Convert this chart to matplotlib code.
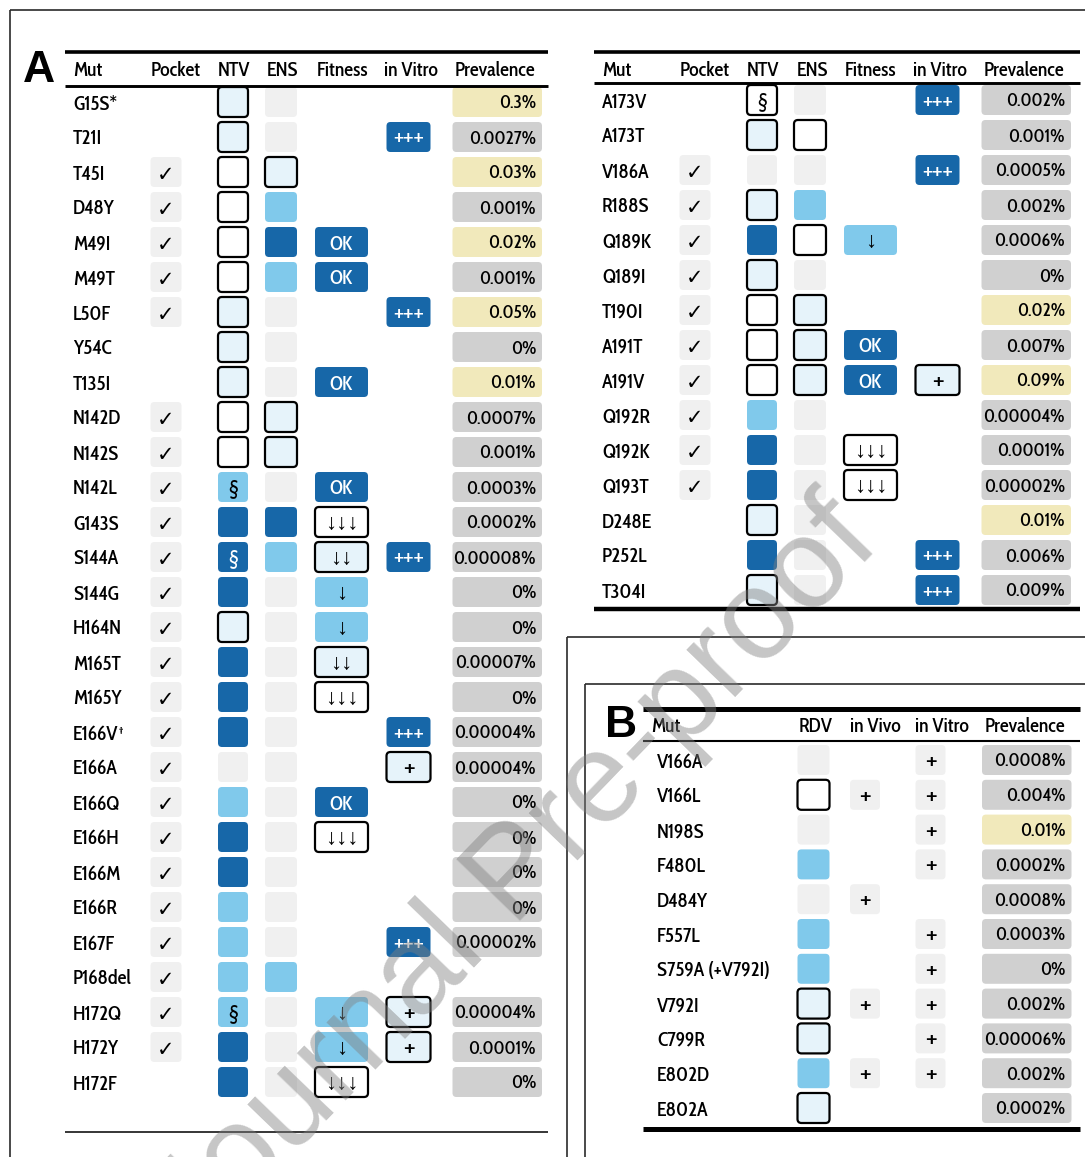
import glob
import math
import matplotlib
matplotlib.use("Agg")
import matplotlib.pyplot as plt
from matplotlib.patches import FancyBboxPatch
from matplotlib import font_manager
from matplotlib.font_manager import FontProperties
from matplotlib.textpath import TextPath

# ---------------- Panel A, left block ----------------
mut_a1 = ['G15S*', 'T21I', 'T45I', 'D48Y', 'M49I', 'M49T', 'L50F', 'Y54C', 'T135I',
          'N142D', 'N142S', 'N142L', 'G143S', 'S144A', 'S144G', 'H164N', 'M165T',
          'M165Y', 'E166V', 'E166A', 'E166Q', 'E166H', 'E166M', 'E166R', 'E167F',
          'P168del', 'H172Q', 'H172Y', 'H172F']
dagger_a1 = ['E166V']
pocket_a1 = [0, 0, 1, 1, 1, 1, 1, 0, 0] + [1] * 19 + [0]
ntv_a1 = ['P', 'P', 'W', 'W', 'W', 'W', 'P', 'P', 'P', 'W', 'W', 'L§', 'D', 'D§', 'D',
          'P', 'D', 'D', 'D', 'G', 'L', 'D', 'D', 'L', 'L', 'L', 'L§', 'D', 'D']
ens_a1 = ['G', 'G', 'P', 'L', 'D', 'L', 'G', 'G', 'G', 'P', 'P', 'G', 'D', 'L', 'G',
          'G', 'G', 'G', 'G', 'G', 'G', 'G', 'G', 'G', 'G', 'L', 'G', 'G', 'G']
fitness_a1 = ['', '', '', '', 'OK', 'OK', '', '', 'OK', '', '', 'OK', '↓↓↓', '↓↓', '↓',
              '↓', '↓↓', '↓↓↓', '', '', 'OK', '↓↓↓', '', '', '', '', '↓', '↓', '↓↓↓']
vitro_a1 = ['', '+++', '', '', '', '', '+++', '', '', '', '', '', '', '+++', '', '', '',
            '', '+++', '+', '', '', '', '', '+++', '', '+', '+', '']
prev_a1 = ['0.3', '0.0027', '0.03', '0.001', '0.02', '0.001', '0.05', '0', '0.01',
           '0.0007', '0.001', '0.0003', '0.0002', '0.00008', '0', '0', '0.00007', '0',
           '0.00004', '0.00004', '0', '0', '0', '0', '0.00002', '', '0.00004', '0.0001', '0']

# ---------------- Panel A, right block ----------------
mut_a2 = ['A173V', 'A173T', 'V186A', 'R188S', 'Q189K', 'Q189I', 'T190I', 'A191T',
          'A191V', 'Q192R', 'Q192K', 'Q193T', 'D248E', 'P252L', 'T304I']
pocket_a2 = [0, 0, 1, 1, 1, 1, 1, 1, 1, 1, 1, 1, 0, 0, 0]
ntv_a2 = ['W§', 'P', 'G', 'P', 'D', 'P', 'W', 'W', 'W', 'L', 'D', 'D', 'P', 'D', 'P']
ens_a2 = ['G', 'W', 'G', 'L', 'W', 'G', 'P', 'P', 'P', 'G', 'G', 'G', 'G', 'G', 'G']
fitness_a2 = ['', '', '', '', '↓', '', '', 'OK', 'OK', '', '↓↓↓', '↓↓↓', '', '', '']
vitro_a2 = ['+++', '', '+++', '', '', '', '', '', '+', '', '', '', '', '+++', '+++']
prev_a2 = ['0.002', '0.001', '0.0005', '0.002', '0.0006', '0', '0.02', '0.007', '0.09',
           '0.00004', '0.0001', '0.00002', '0.01', '0.006', '0.009']

# ---------------- Panel B ----------------
mut_b = ['V166A', 'V166L', 'N198S', 'F480L', 'D484Y', 'F557L', 'S759A (+V792I)',
         'V792I', 'C799R', 'E802D', 'E802A']
rdv_b = ['G', 'W', 'G', 'L', 'G', 'L', 'L', 'P', 'P', 'L', 'P']
vivo_b = ['', '+', '', '', '+', '', '', '+', '', '+', '']
vitro_b = ['+', '+', '+', '+', '', '+', '+', '+', '+', '+', '']
prev_b = ['0.0008', '0.004', '0.01', '0.0002', '0.0008', '0.0003', '0', '0.002',
          '0.00006', '0.002', '0.0002']

headers_a = ['Mut', 'Pocket', 'NTV', 'ENS', 'Fitness', 'in Vitro', 'Prevalence']
headers_b = ['Mut', 'RDV', 'in Vivo', 'in Vitro', 'Prevalence']

# ---------------- styling ----------------
DARK = '#1767a8'
LIGHT = '#80c9eb'
PALE = '#e6f3fa'
GREY = '#f0f0f0'
PREV_GREY = '#d0d0d0'
PREV_YELLOW = '#f1e9bb'
FRAME = '#2a2a2a'

# ---- choose a narrow sans face: cap height ~13.8 px, compact set width ----
for pat in ('/usr/share/fonts/**/*Narrow*.[to]tf', '/usr/share/fonts/**/*Condensed*.[to]tf'):
    for path in glob.glob(pat, recursive=True):
        try:
            font_manager.fontManager.addfont(path)
        except Exception:
            pass

CAP_PX = 13.8
targets = {'S759A (+V792I)': 120, 'Prevalence': 85, '0.00004%': 76, 'P168del': 56}


def _extent(s, size, prop):
    return TextPath((0, 0), s, size=size, prop=prop).get_extents()


def _fit(prop):
    cap_pt = _extent('H', 10, prop).height
    size_cap = 10 * CAP_PX * 0.72 / cap_pt
    logs = [math.log(t / (_extent(s, size_cap, prop).width / 0.72))
            for s, t in targets.items()]
    return size_cap, sum(logs) / len(logs)


best = None
seen = set()
for f in font_manager.fontManager.ttflist:
    n = (f.name + ' ' + f.fname).lower()
    if not ('narrow' in n or 'condensed' in n) or f.style != 'normal':
        continue
    w = f.weight if isinstance(f.weight, int) else {'normal': 400, 'regular': 400,
                                                     'book': 400, 'medium': 500}.get(f.weight, 0)
    if w not in (400, 500) or f.fname in seen:
        continue
    seen.add(f.fname)
    try:
        prop = FontProperties(fname=f.fname)
        size_cap, mlog = _fit(prop)
    except Exception:
        continue
    score = abs(mlog) - (0.03 if w == 500 else 0.0)
    if best is None or score < best[0]:
        best = (score, prop, size_cap, mlog)

if best is None:
    BODY = FontProperties(family='Liberation Sans')
    size_cap, mlog = _fit(BODY)
else:
    _, BODY, size_cap, mlog = best
# lean towards matching string widths, keep some of the cap height
FS = size_cap * math.exp(0.72 * mlog)
FS_PREV = FS * 0.93


def body(size):
    p = BODY.copy()
    p.set_size(size)
    return p


W_PX, H_PX = 1085, 1157
fig = plt.figure(figsize=(W_PX / 100, H_PX / 100), dpi=100)
ax = fig.add_axes([0, 0, 1, 1])
ax.set_xlim(0, W_PX)
ax.set_ylim(H_PX, 0)
ax.axis('off')

STYLE = {'W': ('white', 'black'), 'P': (PALE, 'black'), 'L': (LIGHT, None),
         'D': (DARK, None), 'G': (GREY, None)}
FIT_STYLE = {'OK': ('D', 'white'), '↓': ('L', 'black'), '↓↓': ('P', 'black'),
             '↓↓↓': ('W', 'black')}
VITRO_STYLE = {'+++': ('D', 'white'), '+': ('P', 'black')}
SYMBOL_FAMILY = ['Liberation Sans', 'DejaVu Sans']


def txt(x, y, s, ha='left', color='black', fs=None, family=None, dy=0.0, weight='normal'):
    if family is None:
        return ax.text(x, y + dy, s, ha=ha, va='center_baseline', color=color,
                       fontproperties=body(fs or FS), zorder=4)
    return ax.text(x, y + dy, s, ha=ha, va='center_baseline', color=color,
                   fontsize=fs or FS, family=family, fontweight=weight, zorder=4)


def cell(cx, cy, w, h, kind, label='', color='black', fs=None, family=None, dy=0.0,
         weight='normal'):
    if not kind:
        return
    face, edge = STYLE[kind]
    ax.add_patch(FancyBboxPatch((cx - w / 2, cy - h / 2), w, h,
                                boxstyle='round,pad=0,rounding_size=4',
                                facecolor=face, edgecolor=edge or 'none',
                                linewidth=1.6 if edge else 0, zorder=2))
    if label:
        txt(cx, cy, label, ha='center', color=color, fs=fs, family=family, dy=dy,
            weight=weight)


def prevalence(x0, x1, cy, h, value):
    if value == '':
        return
    face = PREV_YELLOW if float(value) >= 0.01 else PREV_GREY
    ax.add_patch(FancyBboxPatch((x0, cy - h / 2), x1 - x0, h,
                                boxstyle='round,pad=0,rounding_size=4',
                                facecolor=face, edgecolor='none', zorder=2))
    txt(x1 - 6, cy, value + '%', ha='right', fs=FS_PREV)


def hline(x0, x1, y, lw, color='black'):
    ax.plot([x0, x1], [y, y], color=color, lw=lw, solid_capstyle='butt', zorder=3)


def vline(x, y0, y1, lw, color=FRAME):
    ax.plot([x, x], [y0, y1], color=color, lw=lw, solid_capstyle='butt', zorder=3)


def ntv_cell(cx, cy, w, h, code):
    kind = code.rstrip('§')
    mark = '§' if code.endswith('§') else ''
    cell(cx, cy, w, h, kind, mark, color='white' if kind == 'D' else 'black',
         fs=FS * 1.08)


def plus_cell(cx, cy, w, h, kind, label, color):
    cell(cx, cy, w, h, kind, label, color=color, fs=12.5 if len(label) > 1 else 14,
         family=SYMBOL_FAMILY, dy=0.5, weight='bold')


def block_a(dx, y0, head_y, top_y, under_y, rule_x, mut, pocket, ntv, ens, fit, vitro,
            prev, daggers=()):
    step, h = 35, 30
    hline(rule_x[0], rule_x[1], top_y, 2.6)
    hline(rule_x[0], rule_x[1], under_y, 2.1)
    head_x = [73, 176, 234, 283, 342, 411, 495]
    for i, (lab, hx) in enumerate(zip(headers_a, head_x)):
        txt(hx + dx, head_y, lab, ha='left' if i == 0 else 'center')
    for i in range(len(mut)):
        cy = y0 + i * step
        t = txt(73 + dx, cy, mut[i])
        if mut[i] in daggers:
            ax.annotate('†', xy=(1.0, 0.98), xycoords=t, ha='left', va='top',
                        fontproperties=body(FS * 0.6), zorder=4)
        if pocket[i]:
            cell(166 + dx, cy, 31, h, 'G', '✓', fs=15, family=['DejaVu Sans'], dy=1)
        ntv_cell(233 + dx, cy, 30, h, ntv[i])
        cell(281 + dx, cy, 32, h, ens[i])
        if fit[i]:
            k, c = FIT_STYLE[fit[i]]
            if fit[i] == 'OK':
                cell(341.5 + dx, cy, 53, h, k, fit[i], color=c)
            else:
                cell(341.5 + dx, cy, 53, h, k, fit[i], color=c, fs=16,
                     family=SYMBOL_FAMILY, dy=-1)
        if vitro[i]:
            k, c = VITRO_STYLE[vitro[i]]
            plus_cell(408.5 + dx, cy, 44, h, k, vitro[i], c)
        prevalence(452.5 + dx, 542 + dx, cy, h, prev[i])


# ---------------- frames ----------------
hline(10, W_PX, 10, 1.2, FRAME)
vline(10, 10, H_PX, 1.2)
hline(567, W_PX, 637, 1.2, FRAME)
vline(567, 637, H_PX, 1.2)
hline(585, W_PX, 683.5, 1.2, FRAME)
vline(585, 683.5, H_PX, 1.2)

# ---------------- panel A ----------------
ax.text(23, 82, 'A', fontsize=32, fontweight='bold', family='Liberation Sans',
        va='baseline', ha='left', zorder=4)
block_a(0, 102, 69, 52, 86, (65, 548), mut_a1, pocket_a1, ntv_a1, ens_a1, fitness_a1,
        vitro_a1, prev_a1, daggers=dagger_a1)
hline(65, 548, 1132, 1.1)
block_a(529, 100, 68, 52, 83, (594, 1080), mut_a2, pocket_a2, ntv_a2, ens_a2,
        fitness_a2, vitro_a2, prev_a2)
hline(594, 1080, 609, 3.2)

# ---------------- panel B ----------------
ax.text(605, 737, 'B', fontsize=32, fontweight='bold', family='Liberation Sans',
        va='baseline', ha='left', zorder=4)
hline(643, 1080, 709, 3.6)
hline(643, 1080, 740.5, 1.5)
hline(643, 1080, 1129, 3.6)
for lab, hx, ha in zip(headers_b, [651, 816, 875, 942, 1025],
                       ['left', 'center', 'center', 'center', 'center']):
    txt(hx, 725, lab, ha=ha)
for i in range(len(mut_b)):
    cy = 760 + i * 34.8
    txt(657, cy, mut_b[i])
    cell(813.5, cy, 32, 30, rdv_b[i])
    if vivo_b[i]:
        plus_cell(865, cy, 30, 30, 'G', vivo_b[i], 'black')
    if vitro_b[i]:
        plus_cell(930.5, cy, 30, 30, 'G', vitro_b[i], 'black')
    prevalence(982, 1071.5, cy, 30, prev_b[i])

# ---------------- watermark ----------------
ax.text(516, 877, 'Journal Pre-proof', fontsize=92, family='Liberation Sans',
        color='#808080', alpha=0.45, rotation=46, rotation_mode='anchor',
        ha='center', va='center', zorder=10)

fig.savefig('out.png', dpi=100)
